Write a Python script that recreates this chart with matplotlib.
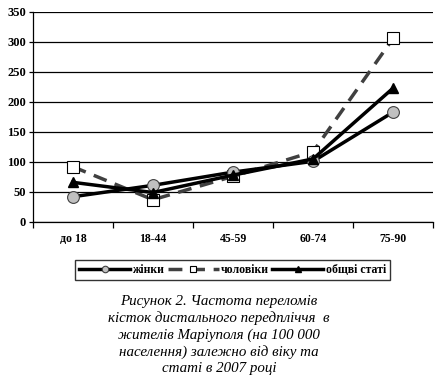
import matplotlib
matplotlib.use("Agg")
import matplotlib.pyplot as plt
from matplotlib.ticker import FixedLocator, NullFormatter

categories = ["до 18", "18-44", "45-59", "60-74", "75-90"]
women = [42, 61, 83, 101, 183]
men = [92, 37, 76, 117, 306]
total = [66, 49, 78, 105, 223]
yticks = [0, 50, 100, 150, 200, 250, 300, 350]
labels = ["жінки", "чоловіки", "общві статі"]
caption = ("Рисунок 2. Частота переломів\n"
           "кісток дистального передпліччя  в\n"
           "жителів Маріуполя (на 100 000\n"
           "населення) залежно від віку та\n"
           "статі в 2007 році")

plt.rcParams['font.family'] = ['Liberation Serif', 'DejaVu Serif']

fig = plt.figure(figsize=(4.38, 3.82), dpi=100)
ax = fig.add_axes([0.075, 0.419, 0.914, 0.550])
x = list(range(len(categories)))

l1, = ax.plot(x, women, color='black', lw=2.5, marker='o', ms=8.5,
              mfc='#c0c0c0', mec='#404040', mew=0.8, zorder=4)
l2, = ax.plot(x, men, color='#404040', lw=2.5, ls=(0, (4, 2.5)), marker='s', ms=9,
              mfc='white', mec='black', mew=0.8, zorder=3)
l3, = ax.plot(x, total, color='black', lw=2.5, marker='^', ms=7,
              mfc='black', mec='black', zorder=5)

ax.set_xlim(-0.5, len(categories) - 0.5)
ax.set_ylim(0, 350)
ax.set_yticks(yticks)
ax.yaxis.grid(True, color='black', lw=0.9)
ax.set_axisbelow(True)
ax.set_xticks(x)
ax.set_xticklabels(categories, fontweight='bold', fontsize=8.5)
ax.tick_params(axis='x', length=0, pad=8)
ax.xaxis.set_minor_locator(FixedLocator([i - 0.5 for i in range(len(categories) + 1)]))
ax.xaxis.set_minor_formatter(NullFormatter())
ax.tick_params(axis='x', which='minor', length=4, width=0.9, color='black')
ax.tick_params(axis='y', length=3, width=0.9, labelsize=9, pad=2)
for lbl in ax.get_yticklabels():
    lbl.set_fontweight('bold')
for s in ['top', 'right']:
    ax.spines[s].set_visible(False)
for s in ['left', 'bottom']:
    ax.spines[s].set_color('black')
    ax.spines[s].set_linewidth(0.9)

leg = fig.legend([l1, l2, l3], labels, loc='center', bbox_to_anchor=(0.531, 0.293),
                 ncol=3, frameon=True, fancybox=False, edgecolor='black',
                 prop={'weight': 'bold', 'size': 8.5}, handlelength=4.3,
                 handletextpad=0.2, columnspacing=0.3, borderpad=0.35,
                 markerscale=0.55)
leg.get_frame().set_linewidth(1.0)

fig.text(0.5, 0.018, caption, ha='center', va='bottom', fontsize=10.8,
         style='italic', linespacing=1.31)

fig.savefig("out.png", dpi=100)
